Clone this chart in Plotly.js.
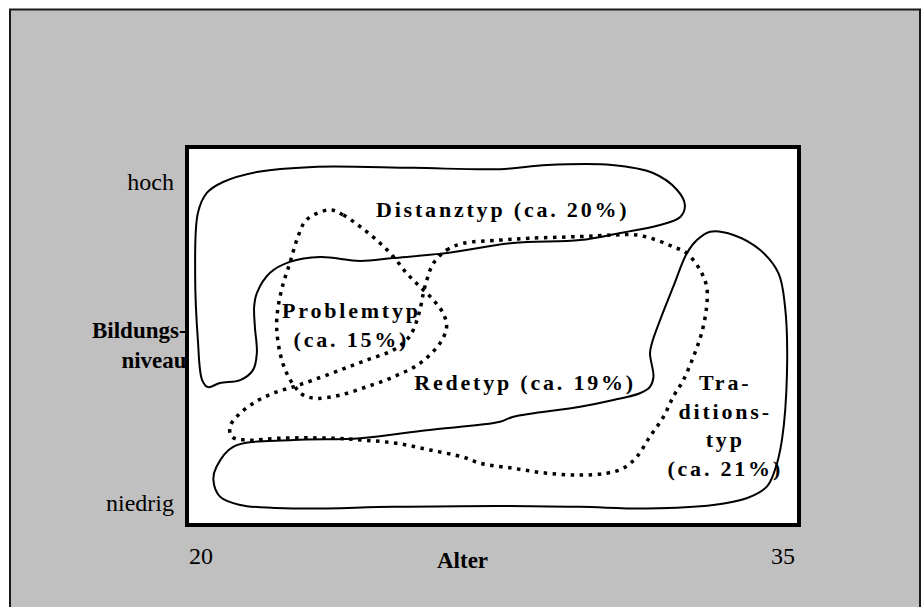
<!DOCTYPE html>
<html>
<head>
<meta charset="utf-8">
<script src="https://cdn.plot.ly/plotly-3.0.1.min.js"></script>
<style>
html,body{margin:0;padding:0;background:#ffffff;}
#chart{width:922px;height:607px;}
g.annotation[data-index="0"] text,
g.annotation[data-index="1"] text,
g.annotation[data-index="2"] text,
g.annotation[data-index="3"] text{letter-spacing:2.8px;}
</style>
</head>
<body>
<div id="chart"></div>
<script>
// Axis ticks
const ageTicks = [20, 35];
const ageTickText = ['20', '35'];
const levelTicks = [0, 100];
const levelTickText = ['niedrig', 'hoch'];

// Group labels
const groupLabels = [
  'Distanztyp (ca. 20%)',
  'Problemtyp<br>(ca. 15%)',
  'Redetyp (ca. 19%)',
  'Tra-<br>ditions-<br>typ<br>(ca. 21%)'
];

// Outline: Distanztyp (solid)
const ageDistanz = [20.57,21.44,22.89,25.46,27.71,28.92,30.59,31.65,32.27,32.47,32.35,31.83,30.80,29.77,28.04,26.34,24.95,24.10,23.07,22.29,21.78,21.44,21.37,21.39,21.44,21.34,21.01,20.49,20.18,20.03,19.92,19.85,19.92,20.15];
const lvlDistanz = [100.0,103.1,104.7,104.4,104.0,105.3,105.3,102.8,97.5,92.8,89.1,86.6,84.1,81.9,81.0,77.9,76.3,75.4,76.6,75.1,71.7,65.4,61.1,54.8,46.7,41.4,38.3,37.4,36.1,38.3,50.8,71.7,90.3,96.6];

// Outline: Traditionstyp (solid)
const ageTradition = [32.52,32.78,33.12,33.72,34.41,34.88,35.05,35.10,34.97,34.79,34.58,34.06,33.20,31.49,29.77,27.71,24.96,22.38,21.01,20.49,20.32,20.40,20.83,22.38,24.10,25.82,27.71,28.05,29.77,30.63,31.31,31.57,31.66,31.57,31.62,31.83,32.17];
const lvlTradition = [77.8,81.9,84.5,83.5,78.8,71.6,61.2,40.4,19.6,10.3,5.1,1.5,-0.6,-1.7,-1.2,-0.9,-1.2,-1.7,-0.6,2.0,7.2,11.3,17.5,19.6,20.2,22.7,25.3,26.9,30.0,32.1,34.2,36.2,39.3,46.6,49.8,57.0,67.4];

// Outline: Problemtyp (dotted)
const ageProblem = [23.32,23.67,24.10,24.53,24.96,25.30,25.64,25.99,26.24,26.33,26.16,25.64,24.96,24.27,23.58,22.98,22.64,22.42,22.21,22.04,21.95,21.99,22.12,22.29,22.47,22.72];
const lvlProblem = [91.3,89.7,86.1,81.9,76.7,71.6,67.4,63.2,59.1,54.9,49.8,43.5,39.3,36.2,33.6,32.6,33.6,36.2,40.4,46.6,54.9,61.2,68.4,74.7,81.9,88.2];

// Outline: Redetyp (dotted)
const ageRede = [25.99,26.33,26.76,27.71,28.48,29.77,30.63,31.23,31.74,32.17,32.52,32.86,33.03,33.03,32.90,32.69,32.43,32.17,31.92,31.57,31.23,30.88,30.46,29.77,28.91,28.05,27.19,26.76,25.90,25.04,24.18,23.32,22.04,21.18,20.79,20.75,20.92,21.35,21.86,22.38,22.89,23.58,24.27,24.96,25.30,25.47,25.64,25.73,25.82];
const lvlRede = [74.7,78.8,80.9,81.9,82.5,83.0,83.5,83.5,81.9,79.8,77.8,72.6,67.4,61.2,52.9,45.6,38.3,33.1,26.9,20.7,14.4,10.8,9.3,8.7,9.3,10.8,12.4,14.3,16.5,18.6,19.6,20.2,20.2,19.6,20.7,23.8,26.9,31.1,34.2,36.2,38.3,41.4,44.5,47.7,50.8,53.9,60.1,65.3,69.5];

const SERIF = 'Liberation Serif, "Times New Roman", Times, serif';

function closed(a){ return a.concat([a[0]]); }
function outline(xs, ys, dotted){
  return {
    type: 'scatter', mode: 'lines',
    x: closed(xs), y: closed(ys),
    line: dotted
      ? {color: '#000000', width: 3.5, dash: '3.5px,5.5px', shape: 'spline', smoothing: 1}
      : {color: '#000000', width: 2, shape: 'spline', smoothing: 1},
    hoverinfo: 'skip', showlegend: false
  };
}

const traces = [
  outline(ageDistanz, lvlDistanz, false),
  outline(ageTradition, lvlTradition, false),
  outline(ageProblem, lvlProblem, true),
  outline(ageRede, lvlRede, true)
];

const labelFont = {family: SERIF, size: 22, color: '#000000', weight: 'bold'};
const titleFont = {family: SERIF, size: 23, color: '#000000', weight: 'bold'};

const layout = {
  width: 922, height: 607,
  margin: {l: 187, r: 123, t: 147, b: 82, pad: 0},
  paper_bgcolor: '#ffffff',
  plot_bgcolor: '#ffffff',
  showlegend: false,
  hovermode: false,
  xaxis: {
    range: [19.64, 35.41], tickvals: ageTicks, ticktext: ageTickText,
    showgrid: false, zeroline: false, showline: false, ticks: '',
    ticklabelstandoff: 14,
    tickfont: {family: SERIF, size: 24, color: '#000000'}, fixedrange: true
  },
  yaxis: {
    range: [-6.85, 110.9], tickvals: levelTicks, ticktext: levelTickText,
    showgrid: false, zeroline: false, showline: false, ticks: '',
    ticklabelstandoff: 12,
    tickfont: {family: SERIF, size: 24, color: '#000000'}, fixedrange: true
  },
  shapes: [
    {type: 'rect', xref: 'paper', yref: 'paper', layer: 'below',
     x0: -0.2892, x1: 1.1977, y0: -0.26, y1: 1.3638,
     fillcolor: '#c0c0c0', line: {color: '#1a1a1a', width: 2}},
    {type: 'rect', xref: 'paper', yref: 'paper', layer: 'below',
     x0: 0, x1: 1, y0: 0, y1: 1,
     fillcolor: '#ffffff', line: {color: '#000000', width: 4}}
  ],
  annotations: [
    {text: groupLabels[0], x: 27.78, y: 91.5, xref: 'x', yref: 'y', showarrow: false, font: labelFont},
    {text: groupLabels[1], x: 23.87, y: 55.3, xref: 'x', yref: 'y', showarrow: false, font: labelFont},
    {text: groupLabels[2], x: 28.35, y: 37.6, xref: 'x', yref: 'y', showarrow: false, font: labelFont},
    {text: groupLabels[3], x: 33.51, y: 24.0, xref: 'x', yref: 'y', showarrow: false, font: labelFont},
    {text: 'Bildungs-<br>niveau', x: 0.004, y: 0.476, xref: 'paper', yref: 'paper', xanchor: 'right', yanchor: 'middle', align: 'right', showarrow: false, font: titleFont},
    {text: 'Alter', x: 26.75, y: -0.095, xref: 'x', yref: 'paper', yanchor: 'middle', showarrow: false, font: titleFont}
  ]
};

Plotly.newPlot('chart', traces, layout, {displayModeBar: false, staticPlot: true});
</script>
</body>
</html>
